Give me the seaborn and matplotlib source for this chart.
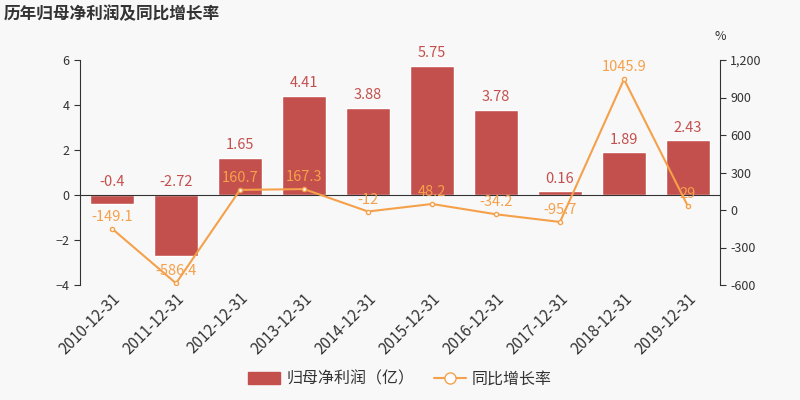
import matplotlib
matplotlib.use("Agg")
import matplotlib.pyplot as plt
import seaborn as sns
import pandas as pd
from matplotlib.lines import Line2D
from matplotlib.patches import Patch

years = ["2010-12-31","2011-12-31","2012-12-31","2013-12-31","2014-12-31",
         "2015-12-31","2016-12-31","2017-12-31","2018-12-31","2019-12-31"]
profit = [-0.4, -2.72, 1.65, 4.41, 3.88, 5.75, 3.78, 0.16, 1.89, 2.43]
growth = [-149.1, -586.4, 160.7, 167.3, -12, 48.2, -34.2, -95.7, 1045.9, 29]

sns.set_style("white")
plt.rcParams['font.family'] = ['Noto Sans CJK SC', 'DejaVu Sans']
bg = "#f8f8f8"
barc = "#c4504e"
linec = "#f5a04a"

fig = plt.figure(figsize=(8, 4), dpi=100, facecolor=bg)
ax = fig.add_axes([0.1, 0.2875, 0.8, 0.5625], facecolor=bg)
df = pd.DataFrame({"year": years, "profit": profit})
sns.barplot(data=df, x="year", y="profit", color=barc, saturation=1, width=0.7, ax=ax)
ax.set_ylim(-4, 6)
ax.set_yticks([-4, -2, 0, 2, 4, 6])
ax.set_xlabel(""); ax.set_ylabel("")
ax.axhline(0, color="#333333", lw=0.8)
for s in ["top", "right", "bottom"]:
    ax.spines[s].set_visible(False)
ax.spines["left"].set_color("#333333")
ax.tick_params(axis="y", labelsize=9, colors="#333333", length=4, left=True)
ax.tick_params(axis="x", labelsize=11, colors="#333333", length=0)
plt.setp(ax.get_xticklabels(), rotation=45, ha="right", rotation_mode="anchor")
for i, v in enumerate(profit):
    ax.text(i, max(v, 0) + 0.25, f"{v:g}", ha="center", va="bottom", color=barc, fontsize=10.5)

ax2 = ax.twinx()
ax2.plot(range(len(years)), growth, color=linec, lw=1.5, marker="o", ms=3,
         mfc="white", mec=linec)
ax2.set_ylim(-600, 1200)
ax2.set_yticks([-600, -300, 0, 300, 600, 900, 1200])
ax2.set_yticklabels(["-600", "-300", "0", "300", "600", "900", "1,200"])
for s in ["top", "left", "bottom"]:
    ax2.spines[s].set_visible(False)
ax2.spines["right"].set_color("#333333")
ax2.tick_params(axis="y", labelsize=9, colors="#333333", length=4, right=True)
for i, v in enumerate(growth):
    ax2.text(i, v + 40, f"{v:g}", ha="center", va="bottom", color=linec, fontsize=10.5)
ax.set_xlim(-0.5, len(years) - 0.5)

fig.text(0.005, 0.965, "历年归母净利润及同比增长率", fontsize=12, fontweight="bold",
         color="#333333", va="center")
fig.text(0.893, 0.9, "%", fontsize=9, color="#333333")

handles = [Patch(color=barc),
           Line2D([], [], color=linec, marker="o", mfc="white", mec=linec, ms=8)]
fig.legend(handles, ["归母净利润（亿）", "同比增长率"], loc="lower center",
           bbox_to_anchor=(0.5, -0.005), ncol=2, frameon=False, fontsize=11.5,
           handlelength=2, columnspacing=1.2, handletextpad=0.4,
           labelcolor="#333333")
fig.savefig("out.png", dpi=100, facecolor=bg)
